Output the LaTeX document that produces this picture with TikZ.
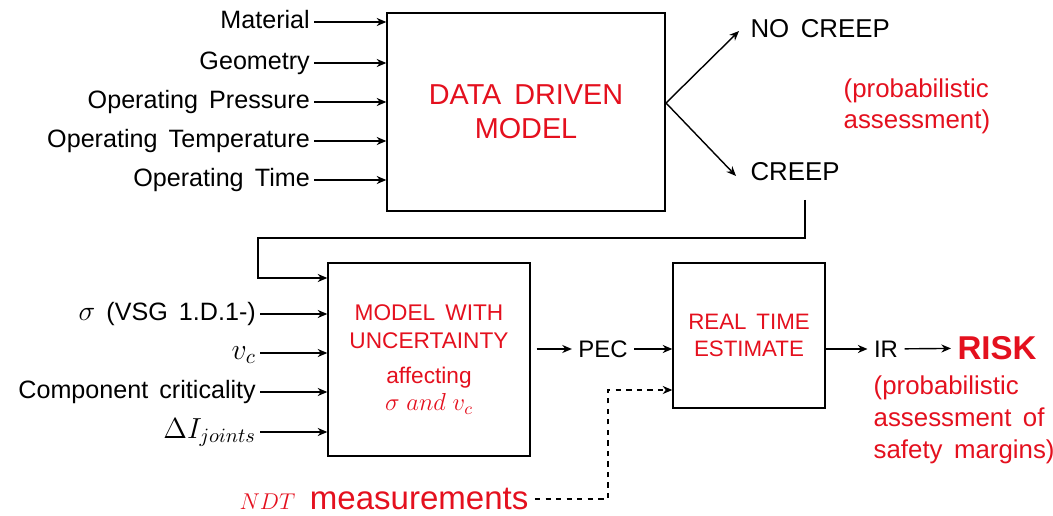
\RequirePackage{fix-cm}
\documentclass[tikz,border=0pt]{standalone}
\usepackage{fontspec}
\setmainfont{Liberation Sans}[WordSpace=1.6]
\usetikzlibrary{arrows.meta,positioning}
\definecolor{modelred}{RGB}{228,16,30}

\begin{document}
\begin{tikzpicture}[x=0.02cm, y=-0.02cm, line width=0.8pt, >={Stealth[length=5.5pt,width=4.6pt]},
   every node/.style={font=\fontsize{14.3}{17}\selectfont},
   inlabel/.style={anchor=east, inner sep=2pt, text height=1.4ex, text depth=0pt},
   block/.style={draw, inner sep=0pt, align=center, text=modelred},
   rednote/.style={anchor=north west, inner sep=0pt, align=left, text=modelred}]
   \useasboundingbox (0,0) rectangle (1053,516);

   % data driven model
   \node[block, minimum width=5.56cm, minimum height=3.96cm,
         font=\fontsize{16.4}{19.3}\selectfont] (ddm) at (526,112) {DATA DRIVEN\\MODEL};
   \node[inlabel] (mat) at (314,22) {Material};
   \node[inlabel] (geo) at (314,63) {Geometry};
   \node[inlabel] (opp) at (314,102) {Operating Pressure};
   \node[inlabel] (opt) at (314,141) {Operating Temperature};
   \node[inlabel] (otime) at (314,180) {Operating Time};
   \foreach \n in {mat,geo,opp,opt,otime}
      \draw[->] (\n.east) -- (\n.east -| ddm.west);

   \coordinate (split) at (666,103);
   \node[anchor=west, font=\fontsize{14.7}{17}\selectfont] (nocreep) at (744,29) {NO CREEP};
   \node[anchor=west, font=\fontsize{14.7}{17}\selectfont] (creep) at (744,172) {CREEP};
   \draw[->] (split) -- ([shift={(-5,2)}]nocreep.west);
   \draw[->] (split) -- ([shift={(-8,4)}]creep.west);
   \node[rednote, font=\fontsize{14.7}{17.6}\selectfont] (probnote) at (843,78) {(probabilistic\\assessment)};

   % model with uncertainty
   \node[block, minimum width=4.04cm, minimum height=3.86cm,
         font=\fontsize{12.9}{15.9}\selectfont] (mwu) at (429,359.5)
         {MODEL WITH\\UNCERTAINTY\\[4pt]affecting\\{\fontsize{14}{16}\selectfont$\sigma\;and\;v_c$}};
   \node[inlabel] (sig) at (260,314) {{\fontsize{16}{18}\selectfont$\sigma$} (VSG 1.D.1-)};
   \node[inlabel] (vc) at (260,353) {\fontsize{17}{18}\selectfont$v_c$};
   \node[inlabel] (crit) at (260,392) {Component criticality};
   \node[inlabel] (dij) at (260,432) {\fontsize{16.5}{18}\selectfont$\Delta I_{joints}$};
   \foreach \n in {sig,vc,crit,dij}
      \draw[->] (\n.east) -- (\n.east -| mwu.west);

   \coordinate (creepout) at (805,200);
   \coordinate (bend) at (258,238);
   \coordinate (feed) at (258,278);
   \draw[->] (creepout) |- (bend) -- (feed) -- (feed -| mwu.west);

   % real time estimate
   \node[block, minimum width=3.04cm, minimum height=2.9cm,
         font=\fontsize{12.7}{15.3}\selectfont] (rte) at (749,335.5) {REAL TIME\\ESTIMATE};
   \node[font=\fontsize{13.6}{16}\selectfont] (pec) at (603,349) {PEC};
   \draw[->] ([xshift=3.4pt]mwu.east |- pec) -- (pec);
   \draw[->] (pec) -- (pec -| rte.west);

   \node[font=\fontsize{13.6}{16}\selectfont] (ir) at (886,349) {IR};
   \node[font=\bfseries\fontsize{18.8}{22}\selectfont, text=modelred] (risk) at (997,348) {RISK};
   \draw[->] (rte.east |- ir) -- (ir);
   \draw[->] (ir) -- (risk);
   \node[rednote, font=\fontsize{14.7}{18.1}\selectfont] (risknote) at (873,375)
         {(probabilistic\\assessment of\\safety margins)};

   % ndt measurements
   \node[text=modelred, font=\fontsize{18.8}{22}\selectfont] (ndt) at (384,499)
         {{\fontsize{13}{16}\selectfont$NDT$} measurements};
   \coordinate (ndtbend) at (608,390);
   \draw[->, dashed, line width=0.6pt] (ndt.east) -| (ndtbend) -- (ndtbend -| rte.west);

\end{tikzpicture}
\end{document}
